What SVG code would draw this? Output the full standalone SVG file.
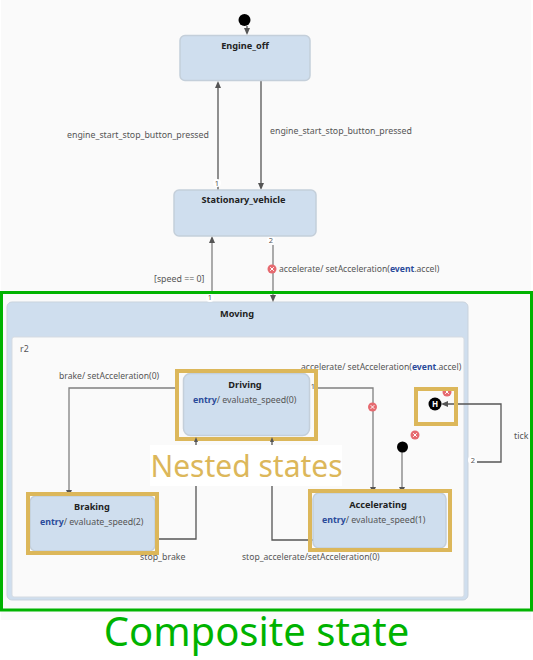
<svg xmlns="http://www.w3.org/2000/svg" width="533" height="660" viewBox="0 0 533 660">
<style>
text{font-family:"Noto Sans","Open Sans",sans-serif;fill:#555}
.lbl{font-size:8.800px}
.acc{font-size:8.600px}
.title{font-size:9.200px;font-weight:700;fill:#222;text-anchor:middle}
.kw{fill:#2a4a9a;font-weight:700}
.node{fill:#cfdeee;stroke:#c4cfda;stroke-width:1.5}
.gold{fill:none;stroke:#dcb75a;stroke-width:4}
.c{fill:none;stroke:#555;stroke-width:1.3}
.g{fill:none;stroke:#808080;stroke-width:1.3}
.a{fill:#555}
.e{fill:#e66a70}
.x{stroke:#fff;stroke-width:1;fill:none}
.n{font-size:7.500px;text-anchor:middle}
.h{fill:#fff}
</style>
<defs>
<g id="err"><circle class="e" r="4.500"/><path class="x" d="M-1.800-1.800L1.800 1.800M1.800-1.800L-1.800 1.800"/></g>
</defs>
<rect width="533" height="660" fill="#fff"/>
<rect x="1" y="0" width="530" height="620" fill="#fafafa"/>
<g id="composite-moving">
<rect x="7" y="302" width="461" height="298" rx="5" fill="#cfdeee" stroke="#c9d3dd"/>
<rect x="12" y="337" width="452" height="260" rx="2" fill="#fafafa" stroke="#d5dbe2"/>
<text x="237" y="317" class="title">Moving</text>
<text x="20" y="352" class="lbl">r2</text>
</g>
<g id="connectors">
<path class="c" d="M218 190V87"/><path class="a" d="M218 81l-3 7h6z"/>
<path class="c" d="M261 81V184"/><path class="a" d="M261 190l-3-7h6z"/>
<path class="c" d="M247 26V30"/><path class="a" d="M247 35l-3-7h6z"/>
<path class="g" d="M212 291V242"/><path class="a" d="M212 236l-3 7h6z"/>
<path class="g" d="M273 245V296"/><path class="a" d="M273 302l-3-7h6z"/>
<path class="g" d="M175 388H69V492"/><path class="a" d="M69 496l-3-6h6z"/>
<path class="g" d="M316 388H373V489"/><path class="a" d="M373 493l-3-6h6z"/>
<path class="g" d="M402 447V489"/><path class="a" d="M402 493l-3-6h6z"/>
<path class="c" d="M159 539H196V486"/>
<path class="c" d="M313 540H272V486"/>
<path class="c" d="M477 462H501V404H446"/><path class="a" d="M441 404l7-3v6z"/>
<use href="#err" x="272" y="269"/>
<use href="#err" x="372.500" y="407"/>
<use href="#err" x="415" y="435"/>
<use href="#err" x="447" y="392"/>
<text x="67" y="138" class="lbl">engine_start_stop_button_pressed</text>
<text x="270" y="134" class="lbl">engine_start_stop_button_pressed</text>
<text x="154" y="282" class="lbl">[speed == 0]</text>
<text x="279" y="272" class="acc">accelerate/ setAcceleration(<tspan class="kw">event</tspan>.accel)</text>
<text x="59" y="379" class="acc">brake/ setAcceleration(0)</text>
<text x="301" y="370" class="acc">accelerate/ setAcceleration(<tspan class="kw">event</tspan>.accel)</text>
<text x="514" y="439" class="lbl">tick</text>
<text x="140" y="560" class="lbl">stop_brake</text>
<text x="242" y="560" class="acc">stop_accelerate/setAcceleration(0)</text>
<circle class="h" cx="217" cy="183" r="4"/><text x="217" y="186" class="n">1</text>
<circle class="h" cx="271" cy="240" r="4"/><text x="271" y="243" class="n">2</text>
<circle class="h" cx="210" cy="298" r="4"/><text x="210" y="300" class="n">1</text>
<text x="313" y="389" class="n">1</text>
<circle class="h" cx="472" cy="460" r="4"/><text x="473" y="463" class="n">2</text>
</g>
<g id="initial-top"><circle cx="244.500" cy="20" r="6" fill="#000"/></g>
<g id="engine-off">
<rect x="180" y="35.500" width="130" height="45" rx="5" class="node"/>
<text x="245" y="49" class="title">Engine_off</text>
</g>
<g id="stationary-vehicle">
<rect x="174" y="190" width="142" height="46" rx="5" class="node"/>
<text x="243.500" y="203" class="title">Stationary_vehicle</text>
</g>
<g id="driving">
<rect x="183.500" y="373.500" width="126" height="62" rx="7" class="node"/>
<rect x="177" y="371" width="139" height="68" class="gold"/>
<text x="245" y="388" class="title">Driving</text>
<text x="193" y="403" class="lbl"><tspan class="kw">entry</tspan>/ evaluate_speed(0)</text>
</g>
<g id="braking">
<rect x="30" y="496" width="125" height="55" rx="6" class="node"/>
<rect x="28" y="494" width="129" height="59" class="gold"/>
<text x="92" y="510" class="title">Braking</text>
<text x="40" y="525" class="lbl"><tspan class="kw">entry</tspan>/ evaluate_speed(2)</text>
</g>
<g id="accelerating">
<rect x="313" y="493" width="133" height="55" rx="6" class="node"/>
<rect x="310" y="491" width="140" height="59" class="gold"/>
<text x="378" y="508" class="title">Accelerating</text>
<text x="322" y="523" class="lbl"><tspan class="kw">entry</tspan>/ evaluate_speed(1)</text>
</g>
<g id="initial-inner"><circle cx="402.500" cy="447" r="5.500" fill="#000"/></g>
<g id="history">
<rect x="416" y="389" width="40" height="35" class="gold"/>
<circle cx="435" cy="404" r="6.500" fill="#000"/>
<text x="435" y="407" text-anchor="middle" style="font-size:8px;font-weight:700;fill:#fff">H</text>
</g>
<g id="annotations">
<rect x="150" y="445" width="192" height="41" fill="#fff"/>
<text x="246.500" y="477" text-anchor="middle" style="font-size:30px;fill:#dcb75a">Nested states</text>
<rect x="1.500" y="292.500" width="530" height="317.500" fill="none" stroke="#00b300" stroke-width="3"/>
<text x="256.500" y="646" text-anchor="middle" style="font-size:40px;fill:#00b300">Composite state</text>
</g>
<g id="connector-tips">
<path class="a" d="M196 437l-2 5h4z"/><path class="c" d="M196 441v4"/>
<path class="a" d="M272 437l-2 5h4z"/><path class="c" d="M272 441v4"/>
</g>
</svg>
